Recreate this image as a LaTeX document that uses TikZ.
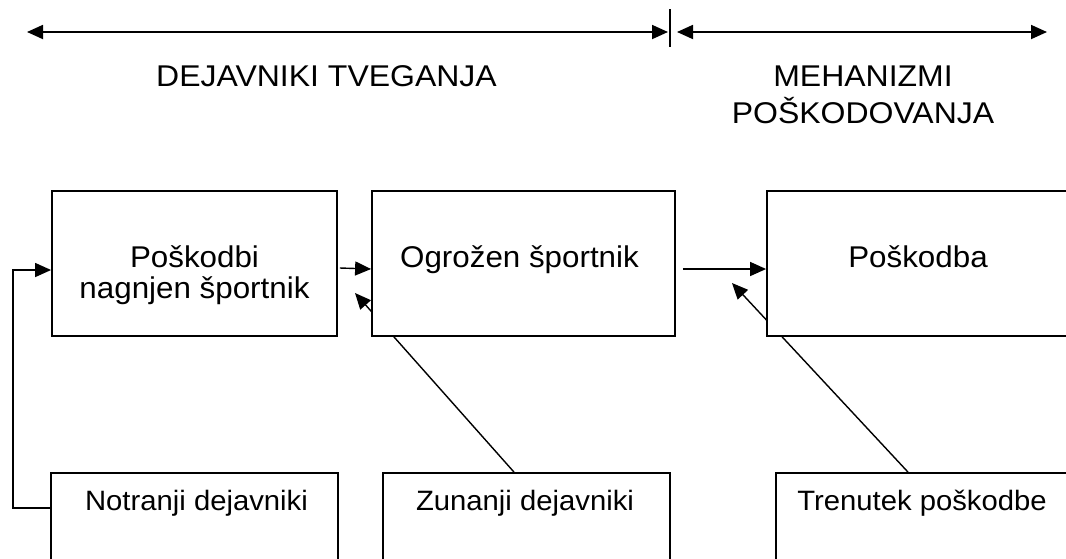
\documentclass[tikz,border=0pt]{standalone}
\usepackage{fontspec}
\setmainfont{Liberation Sans}
\newfontfamily\headfont[FakeStretch=1.066]{Liberation Sans}
\newfontfamily\boxfont[FakeStretch=1.045]{Liberation Sans}
\usetikzlibrary{arrows.meta,calc,backgrounds}
\begin{document}
\begin{tikzpicture}[x=1pt,y=-1pt,
  blk/.style={draw, line width=1.8pt, fill=white, minimum width=#1,
    minimum height=145pt, inner sep=0pt, anchor=center},
  lbl/.style={font=\boxfont\fontsize{30}{31}\selectfont, inner sep=0pt, anchor=base, align=center},
  low/.style={font=\boxfont\fontsize{28}{30}\selectfont, inner sep=0pt, anchor=base, align=center},
  head/.style={font=\headfont\fontsize{30}{37}\selectfont, inner sep=0pt, anchor=base, align=center},
  tip/.tip={Triangle[length=16pt,width=14pt]},
  conn/.style={line width=1.4pt, -tip},
  span/.style={line width=1.8pt, tip-tip}]
\useasboundingbox (0,0) rectangle (1066,558);
\clip (0,0) rectangle (1066,558);

% range arrows and divider
\coordinate (la) at (27,32);
\coordinate (lb) at (668,32);
\coordinate (ra) at (677,32);
\coordinate (rb) at (1047,32);
\draw[span] (la) -- (lb);
\draw[span] (ra) -- (rb);
\draw[line width=1.4pt] (670,9) -- (670,47);

% headings (base anchor sits on the last line)
\node[head] (h1) at (326.5,86) {DEJAVNIKI TVEGANJA};
\node[head] (h2) at (863,123) {MEHANIZMI\\POŠKODOVANJA};

% main boxes
\node[blk=285pt] (b1) at (194.5,263.5) {};
\node[blk=303pt] (b2) at (523.5,263.5) {};
\node[blk=302pt] (b3) at (918,263.5) {};
\node[lbl] (t1) at (194.5,298) {Poškodbi\\nagnjen športnik};
\node[lbl] (t2) at (519.5,267) {Ogrožen športnik};
\node[lbl] (t3) at (918,267) {Poškodba};

% factor boxes
\node[blk=287pt] (n1) at (194.5,545.5) {};
\node[blk=287pt] (z1) at (526.5,545.5) {};
\node[blk=292pt] (m1) at (922,545.5) {};
\node[low] (tn) at (196.5,510) {Notranji dejavniki};
\node[low] (tz) at (525,510) {Zunanji dejavniki};
\node[low] (tm) at (922,510) {Trenutek poškodbe};

% connectors
\draw[conn] ($(b1.east)+(2,4.5)$) -- ($(b2.west)+(0,5.5)$);
\draw[conn] ($(b2.east)+(7,5.5)$) -- ($(b3.west)+(0,5.5)$);
\draw[conn] ($(n1.west)+(0,-37.5)$) -- ++(-37,0) |- ($(b1.west)+(0,6.5)$);

\coordinate (zt) at (355,293);
\coordinate (mt) at (732,283);
\begin{pgfonlayer}{background}
  \draw[conn] ($(z1.north)+(-12.5,0)$) -- (zt);
  \draw[conn] ($(m1.north)+(-14,0)$) -- (mt);
\end{pgfonlayer}
\end{tikzpicture}
\end{document}
